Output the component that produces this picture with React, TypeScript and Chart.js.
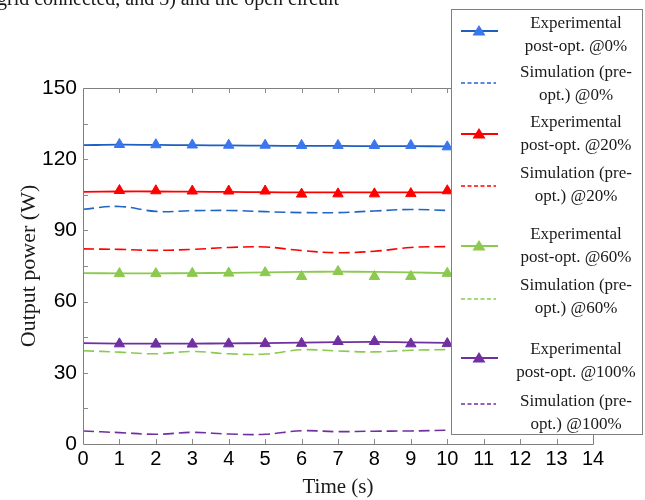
import React, { useEffect, useRef } from "react";
import { Chart, registerables } from "chart.js";

Chart.register(...registerables);

// ---- data ----
const timeS = [0, 1, 2, 3, 4, 5, 6, 7, 8, 9, 10];
const markerTimes = [1, 2, 3, 4, 5, 6, 7, 8, 9, 10];

const expFit0 = [125.9, 126.1, 126.0, 125.9, 125.8, 125.7, 125.6, 125.6, 125.5, 125.5, 125.4];
const expPts0 = [126.2, 126.1, 126.0, 125.9, 125.9, 125.8, 125.8, 125.8, 125.8, 125.2];
const sim0 = [98.9, 100.1, 98.0, 98.3, 98.4, 97.9, 97.5, 97.5, 98.2, 98.8, 98.4];

const expFit20 = [106.2, 106.4, 106.4, 106.3, 106.2, 106.1, 106.0, 106.0, 106.0, 106.0, 106.0];
const expPts20 = [106.8, 106.7, 106.6, 106.6, 106.6, 105.3, 105.4, 105.4, 105.5, 106.7];
const sim20 = [82.2, 82.0, 81.6, 82.0, 82.8, 83.0, 81.5, 80.6, 81.2, 82.8, 83.2];

const expFit60 = [72.0, 71.9, 71.9, 72.0, 72.1, 72.3, 72.5, 72.6, 72.5, 72.3, 72.0];
const expPts60 = [71.8, 71.8, 71.9, 72.0, 72.2, 70.6, 72.7, 70.6, 70.6, 71.9];
const sim60 = [39.3, 38.7, 38.0, 39.0, 38.0, 37.9, 39.7, 39.2, 38.8, 39.5, 39.8];

const expFit100 = [42.5, 42.3, 42.3, 42.3, 42.4, 42.5, 42.7, 42.9, 43.0, 42.8, 42.6];
const expPts100 = [42.2, 42.1, 42.1, 42.2, 42.3, 42.4, 43.2, 43.2, 42.2, 42.3];
const sim100 = [5.5, 4.8, 4.1, 4.9, 4.2, 4.1, 5.6, 5.2, 5.4, 5.5, 5.8];

const xTickValues = [1, 2, 3, 4, 5, 6, 7, 8, 9, 10, 11, 12, 13];
const yTickValues = [15, 30, 45, 60, 75, 90, 105, 120, 135];

const legendLabels = [
  ["Experimental", "post-opt. @0%"],
  ["Simulation (pre-", "opt.) @0%"],
  ["Experimental", "post-opt. @20%"],
  ["Simulation (pre-", "opt.) @20%"],
  ["Experimental", "post-opt. @60%"],
  ["Simulation (pre-", "opt.) @60%"],
  ["Experimental", "post-opt. @100%"],
  ["Simulation (pre-", "opt.) @100%"],
];

// ---- styles ----
const BLUE_LINE = "#1f5fbf";
const BLUE_MARK = "#3a76ee";
const BLUE_DASH = "#2266c4";
const RED = "#ff0000";
const GREEN = "#8cc94f";
const PURPLE = "#7030a0";

const legendStyle = [
  { color: BLUE_LINE, mark: BLUE_MARK, dashed: false, swatchY: 30, textY: 33 },
  { color: BLUE_DASH, mark: BLUE_DASH, dashed: true, swatchY: 82, textY: 82 },
  { color: RED, mark: RED, dashed: false, swatchY: 133, textY: 132 },
  { color: RED, mark: RED, dashed: true, swatchY: 185, textY: 183 },
  { color: GREEN, mark: GREEN, dashed: false, swatchY: 245, textY: 244 },
  { color: GREEN, mark: GREEN, dashed: true, swatchY: 298, textY: 295 },
  { color: PURPLE, mark: PURPLE, dashed: false, swatchY: 357, textY: 359 },
  { color: PURPLE, mark: PURPLE, dashed: true, swatchY: 403, textY: 411 },
];

const toXY = (xs: number[], ys: number[]) => xs.map((x, i) => ({ x, y: ys[i] }));

const lineDs = (data: number[], color: string, dashed: boolean) => ({
  data: toXY(timeS, data),
  borderColor: color,
  backgroundColor: color,
  borderWidth: dashed ? 1.6 : 1.8,
  borderDash: dashed ? [11, 5] : [],
  pointRadius: 0,
  tension: 0.4,
  fill: false,
  order: 2,
});

const markDs = (data: number[], color: string) => ({
  data: toXY(markerTimes, data),
  showLine: false,
  pointStyle: "triangle",
  pointRadius: 6,
  pointBackgroundColor: color,
  pointBorderColor: color,
  pointBorderWidth: 1,
  borderColor: color,
  backgroundColor: color,
  order: 1,
});

const framePlugin = {
  id: "frame",
  afterDraw(chart: any) {
    const { ctx, chartArea, scales } = chart;
    const { left, right, top, bottom } = chartArea;
    const x = scales.x;
    const y = scales.y;
    ctx.save();
    ctx.strokeStyle = "#7f7f7f";
    ctx.lineWidth = 1;
    ctx.beginPath();
    ctx.rect(Math.round(left) + 0.5, Math.round(top) + 0.5, Math.round(right - left), Math.round(bottom - top));
    ctx.stroke();
    ctx.strokeStyle = "#8a8a8a";
    ctx.beginPath();
    for (const t of xTickValues) {
      const px = Math.round(x.getPixelForValue(t)) + 0.5;
      ctx.moveTo(px, bottom);
      ctx.lineTo(px, bottom - 5);
      ctx.moveTo(px, top);
      ctx.lineTo(px, top + 5);
    }
    for (const v of yTickValues) {
      const py = Math.round(y.getPixelForValue(v)) + 0.5;
      ctx.moveTo(left, py);
      ctx.lineTo(left + 5, py);
      ctx.moveTo(right, py);
      ctx.lineTo(right - 5, py);
    }
    ctx.stroke();
    ctx.restore();
  },
};

function Swatch({ color, mark, dashed }: { color: string; mark: string; dashed: boolean }) {
  return (
    <svg width={40} height={14} style={{ display: "block" }}>
      <line
        x1={1}
        y1={7}
        x2={dashed ? 36 : 38}
        y2={7}
        stroke={color}
        strokeWidth={dashed ? 1.6 : 2}
        strokeDasharray={dashed ? "4 2.5" : undefined}
      />
      {!dashed && <polygon points="19,1 25.5,11.5 12.5,11.5" fill={mark} />}
    </svg>
  );
}

export default function App() {
  const canvasRef = useRef<HTMLCanvasElement | null>(null);

  useEffect(() => {
    if (!canvasRef.current) return;
    const chart = new Chart(canvasRef.current, {
      type: "line",
      data: {
        datasets: [
          lineDs(expFit0, BLUE_LINE, false),
          markDs(expPts0, BLUE_MARK),
          lineDs(sim0, BLUE_DASH, true),
          lineDs(expFit20, RED, false),
          markDs(expPts20, RED),
          lineDs(sim20, RED, true),
          lineDs(expFit60, GREEN, false),
          markDs(expPts60, GREEN),
          lineDs(sim60, GREEN, true),
          lineDs(expFit100, PURPLE, false),
          markDs(expPts100, PURPLE),
          lineDs(sim100, PURPLE, true),
        ] as any,
      },
      options: {
        responsive: false,
        animation: false,
        layout: { padding: { left: 0, top: 88, right: 52, bottom: 0 } },
        plugins: {
          legend: { display: false },
          tooltip: { enabled: false },
        },
        scales: {
          x: {
            type: "linear",
            min: 0,
            max: 14,
            afterFit: (s: any) => {
              s.height = 56;
            },
            grid: { display: false, drawTicks: false },
            border: { display: false },
            ticks: {
              stepSize: 1,
              padding: 3,
              color: "#000",
              maxRotation: 0,
              autoSkip: false,
              font: { family: "Liberation Sans", size: 20 },
            },
            title: {
              display: true,
              text: "Time (s)",
              color: "#1a1a1a",
              padding: { top: 0, bottom: 0 },
              font: { family: "Liberation Serif", size: 21 },
            },
          },
          y: {
            type: "linear",
            min: 0,
            max: 150,
            afterFit: (s: any) => {
              s.width = 83;
            },
            grid: { display: false, drawTicks: false },
            border: { display: false },
            ticks: {
              stepSize: 30,
              padding: 6,
              color: "#000",
              font: { family: "Liberation Sans", size: 21 },
            },
            title: {
              display: true,
              text: "Output power (W)",
              color: "#1a1a1a",
              padding: { top: 16, bottom: 0 },
              font: { family: "Liberation Serif", size: 22 },
            },
          },
        },
      } as any,
      plugins: [framePlugin],
    });
    return () => chart.destroy();
  }, []);

  return (
    <div style={{ position: "absolute", left: 0, top: 0, width: 645, height: 500, overflow: "hidden", background: "#fff" }}>
      <canvas ref={canvasRef} width={645} height={500} style={{ position: "absolute", left: 0, top: 0 }} />
      <div
        style={{
          position: "absolute",
          left: -3,
          top: -12,
          fontFamily: "Liberation Serif",
          fontSize: 20,
          lineHeight: "20px",
          color: "#1a1a1a",
          whiteSpace: "nowrap",
        }}
      >
        grid connected, and 3) and the open circuit
      </div>
      <div
        style={{
          position: "absolute",
          left: 451,
          top: 9,
          width: 192,
          height: 426,
          background: "#fff",
          border: "1px solid #7f7f7f",
          boxSizing: "border-box",
        }}
      >
        {legendLabels.map((lines, i) => {
          const st = legendStyle[i];
          return (
            <React.Fragment key={i}>
              <div style={{ position: "absolute", left: 8, top: st.swatchY - 9 - 7 }}>
                <Swatch color={st.color} mark={st.mark} dashed={st.dashed} />
              </div>
              <div
                style={{
                  position: "absolute",
                  left: 56,
                  width: 136,
                  top: st.textY - 9 - 23,
                  textAlign: "center",
                  fontFamily: "Liberation Serif",
                  fontSize: 17,
                  lineHeight: "23px",
                  color: "#1a1a1a",
                  whiteSpace: "nowrap",
                }}
              >
                {lines[0]}
                <br />
                {lines[1]}
              </div>
            </React.Fragment>
          );
        })}
      </div>
    </div>
  );
}
